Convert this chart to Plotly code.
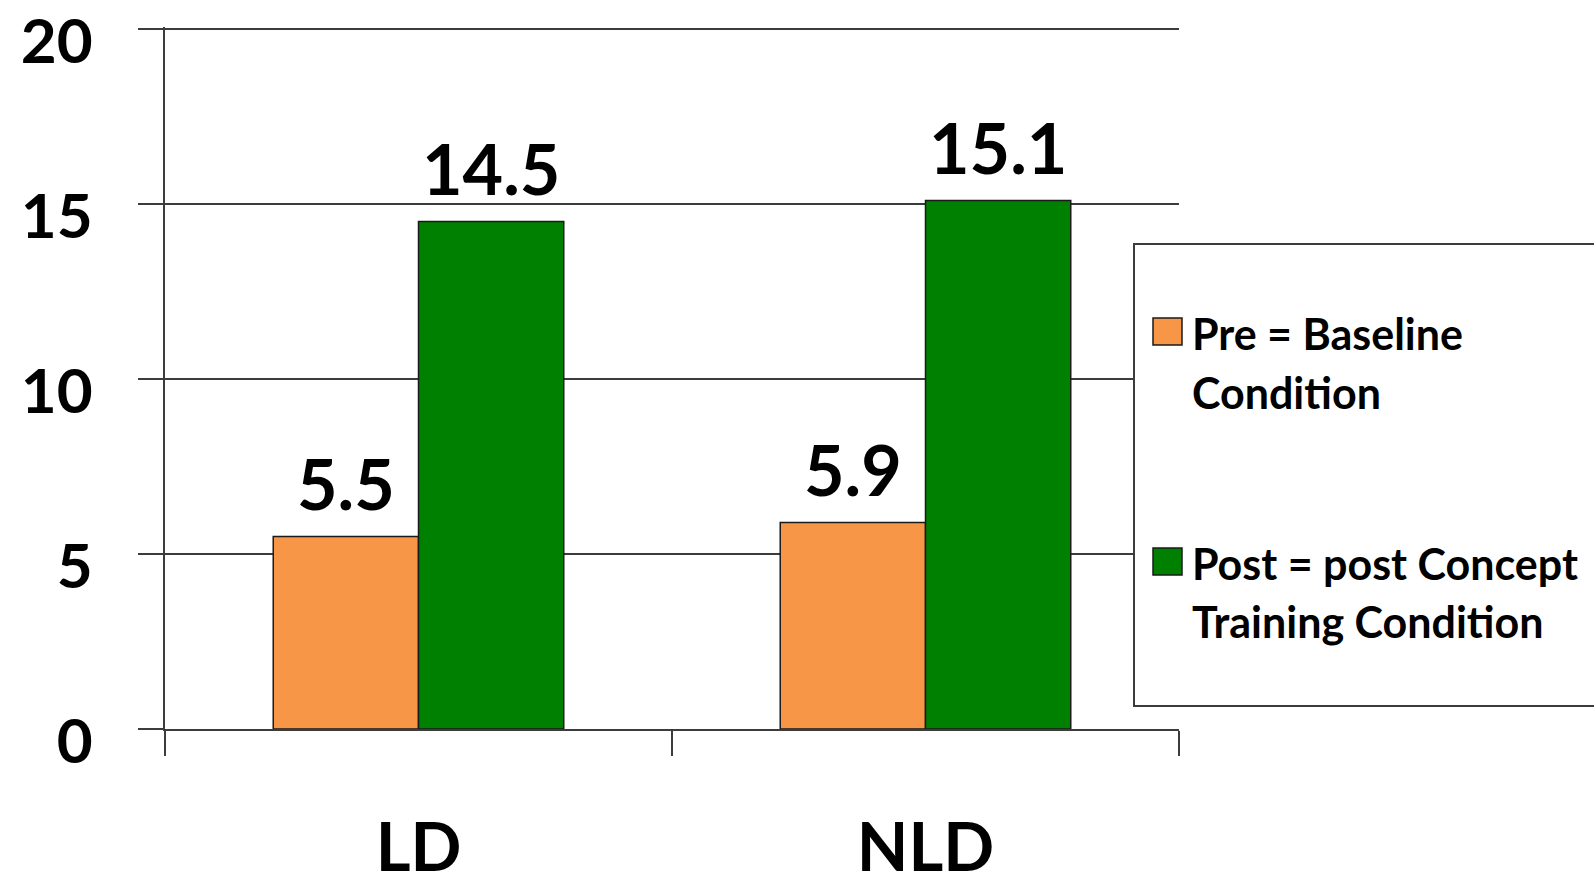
import plotly.graph_objects as go

# ---- data ----
categories = ["LD", "NLD"]
pre_values = [5.5, 5.9]
post_values = [14.5, 15.1]
series_names = ["Pre = Baseline<br>Condition", "Post = post Concept<br>Training Condition"]
y_ticks = [0, 5, 10, 15, 20]

# ---- canvas & plot-area geometry (pixels) ----
W, H = 1594, 885
L, R, T, B = 165, 415, 27, 156
PW = W - L - R
PH = H - T - B
Y_TOP = 20.06          # a hair above 20 so the top gridline is kept

def px(xp):
    """figure pixel x -> paper x"""
    return (xp - L) / PW

def py(yp):
    """figure pixel y (from top) -> paper y"""
    return (H - B - yp) / PH

FONT = "Lato"
PRE_COLOR = "#F79646"
POST_COLOR = "#008000"
EDGE = "#1a1a1a"
AXIS = "#3c3c3c"
BIG = 70
BARGAP = 0.427

fig = go.Figure()
for name, vals, color in [(series_names[0], pre_values, PRE_COLOR),
                          (series_names[1], post_values, POST_COLOR)]:
    fig.add_trace(go.Bar(
        x=categories, y=vals, name=name,
        marker=dict(color=color, line=dict(color=EDGE, width=1.5)),
        showlegend=False,
    ))

# value labels above each bar
bar_w = (1 - BARGAP) / 2
for k, vals in enumerate([pre_values, post_values]):
    off = (k - 0.5) * bar_w
    for i, v in enumerate(vals):
        fig.add_annotation(x=i + off, y=v, xref="x", yref="y",
                           text=f"{v}", showarrow=False,
                           xanchor="center", yanchor="bottom", yshift=10,
                           font=dict(family=FONT, size=BIG, color="black", weight="bold"))

fig.update_layout(
    width=W, height=H,
    margin=dict(l=L, r=R, t=T, b=B, pad=0),
    paper_bgcolor="white", plot_bgcolor="white",
    barmode="group", bargap=BARGAP, bargroupgap=0,
    font=dict(family=FONT, color="black", weight="bold"),
    xaxis=dict(
        automargin=False,
        showline=True, linecolor=AXIS, linewidth=2,
        ticks="outside", tickson="boundaries", ticklen=25, tickwidth=1.5, tickcolor=AXIS,
        tickfont=dict(family=FONT, size=67, color="black", weight="bold"),
        ticklabelstandoff=60, showgrid=False, zeroline=False,
    ),
    yaxis=dict(
        automargin=False,
        range=[0, Y_TOP], tickvals=y_ticks, ticktext=[str(v) for v in y_ticks],
        showline=True, linecolor=AXIS, linewidth=2,
        ticks="outside", ticklen=25, tickwidth=1.5, tickcolor=AXIS,
        showgrid=True, gridcolor=AXIS, gridwidth=2, zeroline=False,
        tickfont=dict(family=FONT, size=62, color="black", weight="bold"),
        ticklabelstandoff=33, ticklabelshift=12, ticklabeloverflow="allow",
    ),
)

# ---- legend panel ----
fig.add_shape(type="rect", xref="paper", yref="paper",
              x0=px(1134), x1=px(1640), y0=py(706), y1=py(244),
              line=dict(color=AXIS, width=2), fillcolor="white", layer="above")

legend_rows = [
    (PRE_COLOR, 318, series_names[0], [333, 393]),
    (POST_COLOR, 548, series_names[1], [563, 621]),
]
for color, top, name, centers in legend_rows:
    fig.add_shape(type="rect", xref="paper", yref="paper",
                  x0=px(1153), x1=px(1182), y0=py(top + 27), y1=py(top),
                  line=dict(color=EDGE, width=1.5), fillcolor=color, layer="above")
    for line_text, cy in zip(name.split("<br>"), centers):
        fig.add_annotation(xref="paper", yref="paper", x=px(1190), y=py(cy),
                           xanchor="left", yanchor="middle", showarrow=False,
                           text=line_text,
                           font=dict(family=FONT, size=43, color="black", weight="bold"))

fig.write_html("out.html")
